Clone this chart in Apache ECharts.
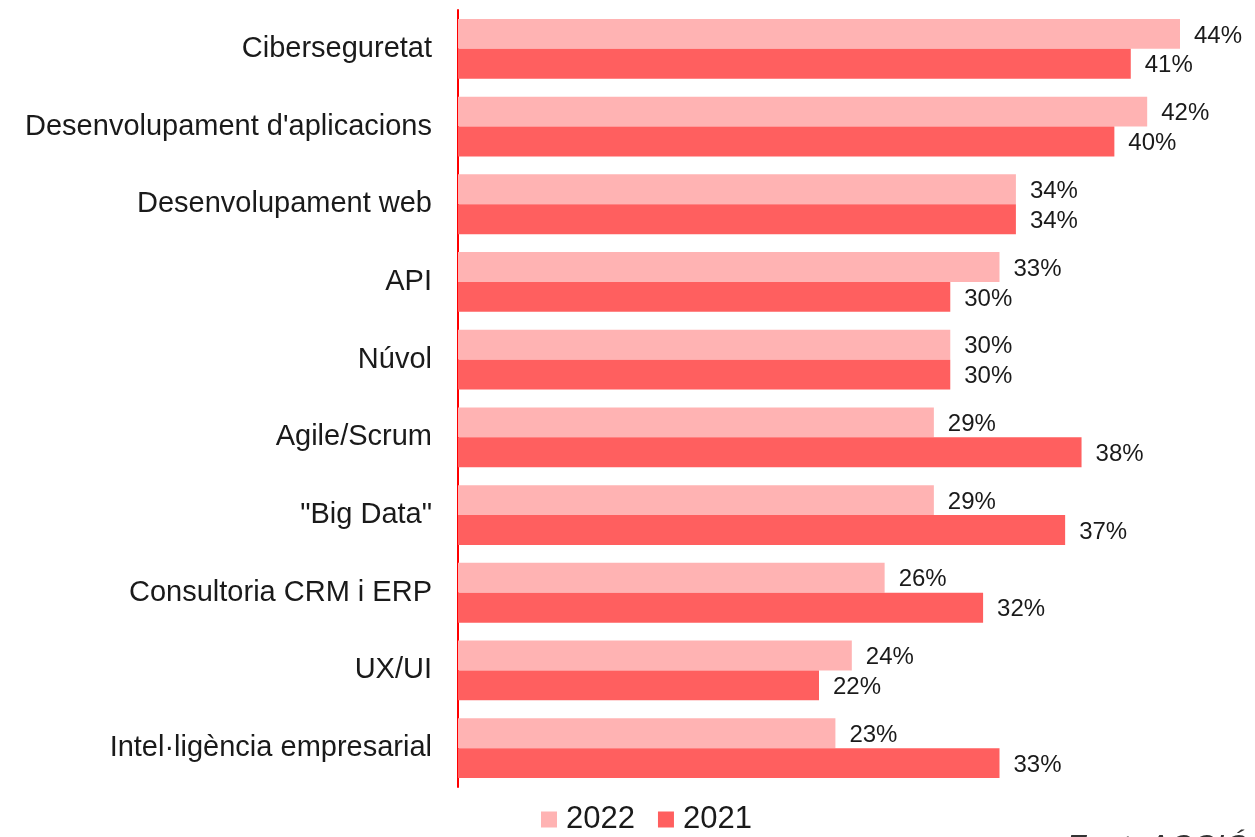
<!DOCTYPE html>
<html>
<head>
<meta charset="utf-8">
<script src="https://cdn.jsdelivr.net/npm/echarts@6/dist/echarts.min.js"></script>
<style>
  html, body { margin: 0; padding: 0; background: #ffffff; }
  #chart { width: 1255px; height: 837px; }
</style>
</head>
<body>
<div id="chart"></div>
<script>
// Skills demanded, share of companies (%)
const categories = [
  'Ciberseguretat',
  "Desenvolupament d'aplicacions",
  'Desenvolupament web',
  'API',
  'Núvol',
  'Agile/Scrum',
  '"Big Data"',
  'Consultoria CRM i ERP',
  'UX/UI',
  'Intel·ligència empresarial'
];
const values2022 = [44, 42, 34, 33, 30, 29, 29, 26, 24, 23];
const values2021 = [41, 40, 34, 30, 30, 38, 37, 32, 22, 33];
const seriesNames = ['2022', '2021'];
const sourceNote = 'Font: ACCIÓ';

const FONT = 'Liberation Sans, Arial, Helvetica, sans-serif';

const chart = echarts.init(document.getElementById('chart'), null, { renderer: 'canvas' });

const labelStyle = {
  show: true,
  position: 'right',
  distance: 14,
  offset: [0, 2],
  formatter: '{c}%',
  fontFamily: FONT,
  fontSize: 24,
  color: '#1a1a1a'
};

chart.setOption({
  animation: false,
  backgroundColor: '#ffffff',
  grid: { left: 458, right: 75, top: 10, bottom: 50, containLabel: false },
  legend: {
    data: seriesNames,
    left: 536,
    top: 799,
    itemWidth: 16,
    itemHeight: 16,
    itemGap: 23,
    icon: 'rect',
    textStyle: { fontFamily: FONT, fontSize: 31, color: '#1a1a1a', padding: [0, 0, 0, 4] }
  },
  xAxis: {
    type: 'value',
    min: 0,
    max: 44,
    show: false
  },
  yAxis: {
    type: 'category',
    data: categories,
    inverse: true,
    axisLine: { show: true, lineStyle: { color: '#ff0000', width: 2 } },
    axisTick: { show: false },
    axisLabel: {
      margin: 26,
      fontFamily: FONT,
      fontSize: 29,
      color: '#1a1a1a',
      padding: [4, 0, 0, 0]
    },
    splitLine: { show: false }
  },
  series: [
    {
      name: seriesNames[0],
      type: 'bar',
      data: values2022,
      barGap: '0%',
      barCategoryGap: '23%',
      itemStyle: { color: '#ffb3b3' },
      label: labelStyle
    },
    {
      name: seriesNames[1],
      type: 'bar',
      data: values2021,
      itemStyle: { color: '#ff5f5f' },
      label: labelStyle
    }
  ],
  graphic: [
    {
      type: 'text',
      x: 1066,
      y: 832,
      style: {
        text: sourceNote,
        fontFamily: FONT,
        fontStyle: 'italic',
        fontSize: 32,
        fill: '#333333',
        verticalAlign: 'top'
      }
    }
  ]
});
</script>
</body>
</html>
